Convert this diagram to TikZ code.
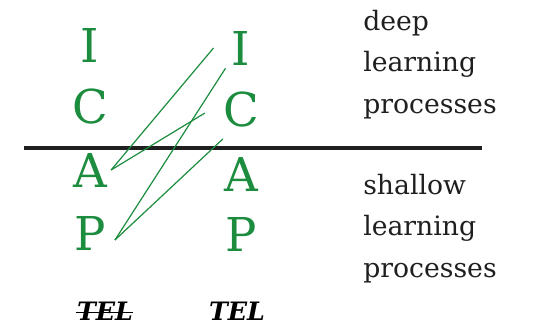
\documentclass[tikz,border=0pt]{standalone}
\usepackage{fontspec}
\setmainfont{DejaVu Serif}
\usetikzlibrary{calc}
\definecolor{icapgreen}{RGB}{28,140,62}

\begin{document}
\begin{tikzpicture}[x=0.75pt,y=-0.75pt,
		letter/.style={text=icapgreen,font=\fontsize{35}{35}\selectfont,anchor=base,inner sep=3pt},
		level/.style={anchor=base west,align=left,inner sep=0pt,text=black!88,font=\fontsize{20}{31}\selectfont},
		tel/.style={anchor=base,inner sep=0pt,font=\fontsize{19}{19}\selectfont\bfseries\itshape},
		shiftline/.style={icapgreen,line width=0.9pt}]
		\useasboundingbox (0,0) rectangle (534,328);
		% separator deep / shallow
		\draw[line width=2.4pt,black!88] (24,148) -- (482,148);
		% ICAP without TEL
		\node[letter] (lI) at (90,63)  {I};
		\node[letter] (lC) at (90,123) {C};
		\node[letter] (lA) at (90,187) {A};
		\node[letter] (lP) at (90,250) {P};
		% ICAP with TEL
		\node[letter] (rI) at (241,65)  {I};
		\node[letter] (rC) at (241,126) {C};
		\node[letter] (rA) at (241,191) {A};
		\node[letter] (rP) at (241,251) {P};
		% shifts upwards
		\draw[shiftline] (lA.east) -- ($(rI.west)+(-14,0)$);
		\draw[shiftline] (lA.east) -- ($(rC.west)+(-14,4)$);
		\draw[shiftline] ($(lP.east)+(5,7)$) -- ($(rI.south west)+(-2,-1)$);
		\draw[shiftline] ($(lP.east)+(5,7)$) -- ($(rC.south west)+(4,8)$);
		% levels (base = last line)
		\node[level] (deep) at (363,113) {deep\\learning\\processes};
		\node[level] (shallow) at (363,277) {shallow\\learning\\processes};
		% TEL labels
		\node[tel] (telno) at (105,320) {TEL};
		\node[tel] (telyes) at (237,320) {TEL};
		\draw[line width=1pt] ($(telno.west)+(-1,2)$) -- ($(telno.east)+(0,2)$); % struck out
	\end{tikzpicture}
\end{document}
